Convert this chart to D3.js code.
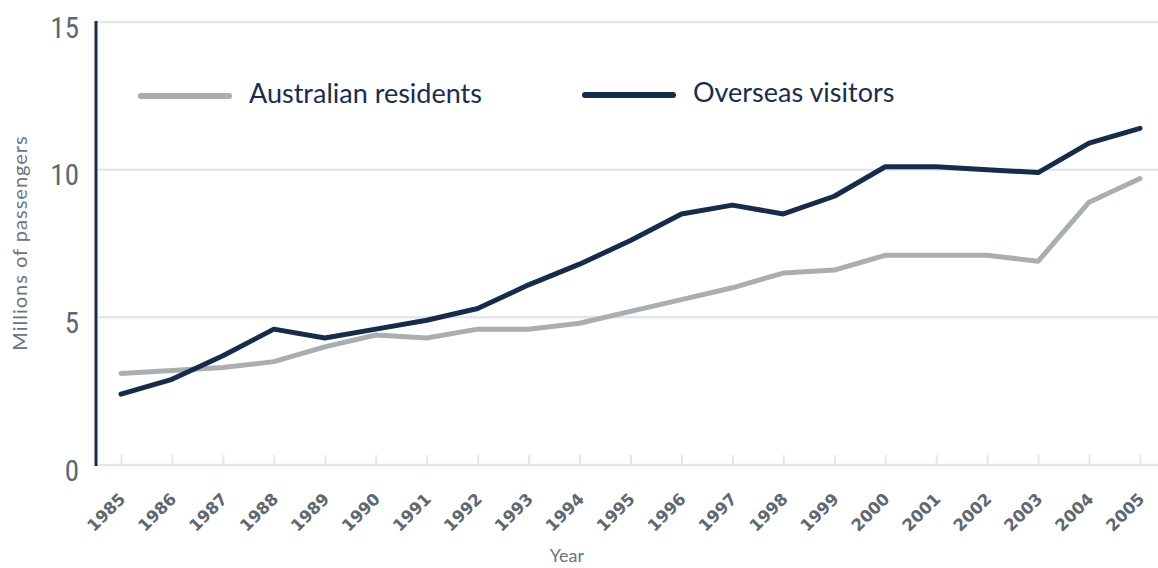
<!DOCTYPE html>
<html>
<head>
<meta charset="utf-8">
<script src="https://cdn.jsdelivr.net/npm/d3@7"></script>
<style>
  html, body { margin: 0; padding: 0; background: #ffffff; }
  svg { display: block; }
</style>
</head>
<body>
<svg id="chart" width="1158" height="568"></svg>
<script>
// Passenger movements (millions), 1985–2005
const years = [1985, 1986, 1987, 1988, 1989, 1990, 1991, 1992, 1993, 1994, 1995,
               1996, 1997, 1998, 1999, 2000, 2001, 2002, 2003, 2004, 2005];
const australianResidents = [3.1, 3.2, 3.3, 3.5, 4.0, 4.4, 4.3, 4.6, 4.6, 4.8, 5.2,
                             5.6, 6.0, 6.5, 6.6, 7.1, 7.1, 7.1, 6.9, 8.9, 9.7];
const overseasVisitors = [2.4, 2.9, 3.7, 4.6, 4.3, 4.6, 4.9, 5.3, 6.1, 6.8, 7.6,
                          8.5, 8.8, 8.5, 9.1, 10.1, 10.1, 10.0, 9.9, 10.9, 11.4];
const yTicks = [0, 5, 10, 15];
const seriesNames = ["Australian residents", "Overseas visitors"];

const colors = { residents: "#a9aeb2", visitors: "#172b4a", grid: "#e4e7e9", text: "#5d6871", navy: "#1b2d4b" };

const svg = d3.select("#chart");
const plotLeft = 96, plotRight = 1140, plotTop = 22, plotBottom = 465;

const x = d3.scalePoint().domain(years).range([121, plotRight]);
const y = d3.scaleLinear().domain([0, 15]).range([plotBottom, plotTop]);

// horizontal gridlines
svg.append("g")
  .selectAll("line")
  .data(yTicks)
  .join("line")
  .attr("x1", plotLeft).attr("x2", 1158)
  .attr("y1", d => y(d)).attr("y2", d => y(d))
  .attr("stroke", colors.grid)
  .attr("stroke-width", 2.5);

// x axis: tick marks and rotated year labels
const xAxis = svg.append("g")
  .attr("transform", `translate(0,${plotBottom})`)
  .call(d3.axisBottom(x).tickSize(-10).tickSizeOuter(0).tickPadding(0));
xAxis.select(".domain").remove();
xAxis.selectAll(".tick line").attr("stroke", colors.grid).attr("stroke-width", 2);
xAxis.selectAll(".tick text")
  .attr("font-family", "'DejaVu Sans', sans-serif")
  .attr("font-weight", "bold")
  .attr("font-size", 16.5)
  .attr("fill", colors.text)
  .attr("text-anchor", "end")
  .attr("dy", null)
  .attr("transform", "translate(5,35) rotate(-45)");

// y axis labels
const yAxis = svg.append("g")
  .attr("transform", `translate(${plotLeft},0)`)
  .call(d3.axisLeft(y).tickValues(yTicks).tickSize(0).tickPadding(17));
yAxis.select(".domain").remove();
yAxis.selectAll(".tick text")
  .attr("font-family", "'Liberation Sans Narrow', 'Roboto Condensed', 'Roboto', sans-serif")
  .attr("font-size", 29)
  .attr("fill", colors.text)
  .attr("dy", "15px");

// vertical axis line
svg.append("line")
  .attr("x1", plotLeft).attr("x2", plotLeft)
  .attr("y1", plotTop - 1).attr("y2", plotBottom + 1)
  .attr("stroke", colors.navy)
  .attr("stroke-width", 3);

// series lines
const line = d3.line().x((d, i) => x(years[i])).y(d => y(d));
svg.append("path")
  .datum(australianResidents)
  .attr("d", line)
  .attr("fill", "none")
  .attr("stroke", colors.residents)
  .attr("stroke-width", 5)
  .attr("stroke-linejoin", "round")
  .attr("stroke-linecap", "round");
svg.append("path")
  .datum(overseasVisitors)
  .attr("d", line)
  .attr("fill", "none")
  .attr("stroke", colors.visitors)
  .attr("stroke-width", 5)
  .attr("stroke-linejoin", "round")
  .attr("stroke-linecap", "round");

// legend
const legend = [
  { name: seriesNames[0], color: colors.residents, x0: 141, y0: 96 },
  { name: seriesNames[1], color: colors.visitors, x0: 585, y0: 95 }
];
const lg = svg.append("g").selectAll("g").data(legend).join("g");
lg.append("line")
  .attr("x1", d => d.x0).attr("x2", d => d.x0 + 88)
  .attr("y1", d => d.y0).attr("y2", d => d.y0)
  .attr("stroke", d => d.color)
  .attr("stroke-width", 6)
  .attr("stroke-linecap", "round");
lg.append("text")
  .attr("x", d => d.x0 + 108)
  .attr("y", d => d.y0 + 7)
  .attr("font-family", "Lato, 'Open Sans', sans-serif")
  .attr("font-size", 27)
  .attr("fill", colors.navy)
  .text(d => d.name);

// axis titles
svg.append("text")
  .attr("transform", "translate(27,243) rotate(-90)")
  .attr("text-anchor", "middle")
  .attr("font-family", "Lato, 'Open Sans', sans-serif")
  .attr("font-size", 20)
  .attr("letter-spacing", "1px")
  .attr("fill", "#6b757d")
  .text("Millions of passengers");
svg.append("text")
  .attr("x", 567)
  .attr("y", 562)
  .attr("text-anchor", "middle")
  .attr("font-family", "Lato, 'Open Sans', sans-serif")
  .attr("font-size", 18)
  .attr("fill", "#6b757d")
  .text("Year");
</script>
</body>
</html>
